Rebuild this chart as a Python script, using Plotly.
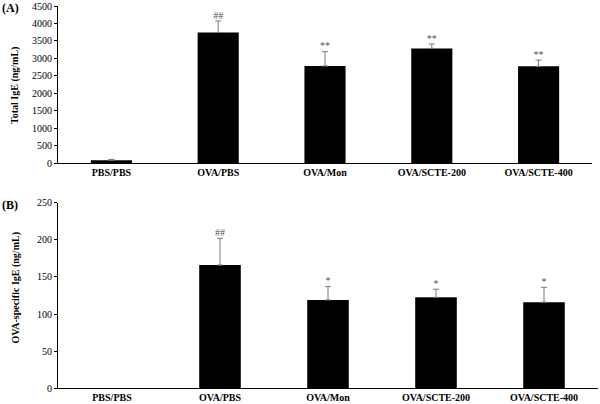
import plotly.graph_objects as go

groups = ["PBS/PBS", "OVA/PBS", "OVA/Mon", "OVA/SCTE-200", "OVA/SCTE-400"]
total_ige = [80, 3740, 2780, 3285, 2770]
total_ige_err = [20, 330, 410, 125, 180]
total_sig = ["", "##", "**", "**", "**"]

ova_ige = [None, 166, 119, 122.5, 116]
ova_ige_err = [None, 36, 18, 11, 20]
ova_sig = ["", "##", "*", "*", "*"]

y1_ticks = [0, 500, 1000, 1500, 2000, 2500, 3000, 3500, 4000, 4500]
y2_ticks = [0, 50, 100, 150, 200, 250]

FONT = "Liberation Serif"
fig = go.Figure()

def add_panel(vals, errs, sig, xa, ya):
    fig.add_trace(go.Bar(
        x=groups, y=vals, xaxis=xa, yaxis=ya,
        marker=dict(color="black", line=dict(width=0)),
        error_y=dict(type="data", array=errs,
                     arrayminus=[0 if e is not None else None for e in errs],
                     symmetric=False, color="#7a7a7a", thickness=1, width=3),
        showlegend=False, hoverinfo="skip"))
    fig.add_trace(go.Scatter(
        x=groups,
        y=[None if v is None else v + (e or 0) for v, e in zip(vals, errs)],
        xaxis=xa, yaxis=ya,
        mode="text", text=sig, textposition="top center",
        textfont=dict(family=FONT, size=10, color="#555555"),
        showlegend=False, hoverinfo="skip", cliponaxis=False))

add_panel(total_ige, total_ige_err, total_sig, "x", "y")
add_panel(ova_ige, ova_ige_err, ova_sig, "x2", "y2")

xcommon = dict(type="category", categoryorder="array", categoryarray=groups,
               range=[-0.5, 4.5], showline=True, linecolor="black", linewidth=1,
               ticks="", showgrid=False, zeroline=False, automargin=False,
               tickvals=groups, ticktext=[f"<b>{g}</b>" for g in groups],
               tickfont=dict(family=FONT, size=10, color="black"))
ycommon = dict(showline=True, linecolor="black", linewidth=1, ticks="outside",
               ticklen=3, tickcolor="black", showgrid=False, zeroline=False,
               automargin=False, tickprefix="<b>", ticksuffix="</b>",
               tickfont=dict(family=FONT, size=10, color="black"))

fig.update_layout(
    width=600, height=404,
    margin=dict(l=0, r=0, t=0, b=0, autoexpand=False),
    paper_bgcolor="white", plot_bgcolor="white",
    bargap=0.615,
    font=dict(family=FONT, color="black"),
    xaxis=dict(domain=[58/600, 592/600], anchor="y", **xcommon),
    yaxis=dict(domain=[(404-163)/404, (404-6)/404], anchor="x", range=[0, 4500],
               tickvals=y1_ticks, **ycommon),
    xaxis2=dict(domain=[58/600, 598/600], anchor="y2", **xcommon),
    yaxis2=dict(domain=[(404-388.3)/404, (404-202.7)/404], anchor="x2", range=[0, 250],
                tickvals=y2_ticks, **ycommon),
    annotations=[
        dict(text="<b>(A)</b>", x=0, y=1 - 8/404, xref="paper", yref="paper",
             xanchor="left", yanchor="middle", showarrow=False,
             font=dict(family=FONT, size=12, color="black")),
        dict(text="<b>(B)</b>", x=0, y=1 - 205/404, xref="paper", yref="paper",
             xanchor="left", yanchor="middle", showarrow=False,
             font=dict(family=FONT, size=12, color="black")),
        dict(text="<b>Total IgE (ng/mL)</b>", x=15/600, y=1 - 86/404,
             xref="paper", yref="paper", xanchor="center", yanchor="middle",
             textangle=-90, showarrow=False,
             font=dict(family=FONT, size=10, color="black")),
        dict(text="<b>OVA-specific IgE (ng/mL)</b>", x=15/600, y=1 - 288.5/404,
             xref="paper", yref="paper", xanchor="center", yanchor="middle",
             textangle=-90, showarrow=False,
             font=dict(family=FONT, size=10, color="black")),
    ],
)

fig.write_html("out.html", config={"displayModeBar": False},
               post_script="document.body.style.margin='0';document.body.style.overflow='hidden';")
